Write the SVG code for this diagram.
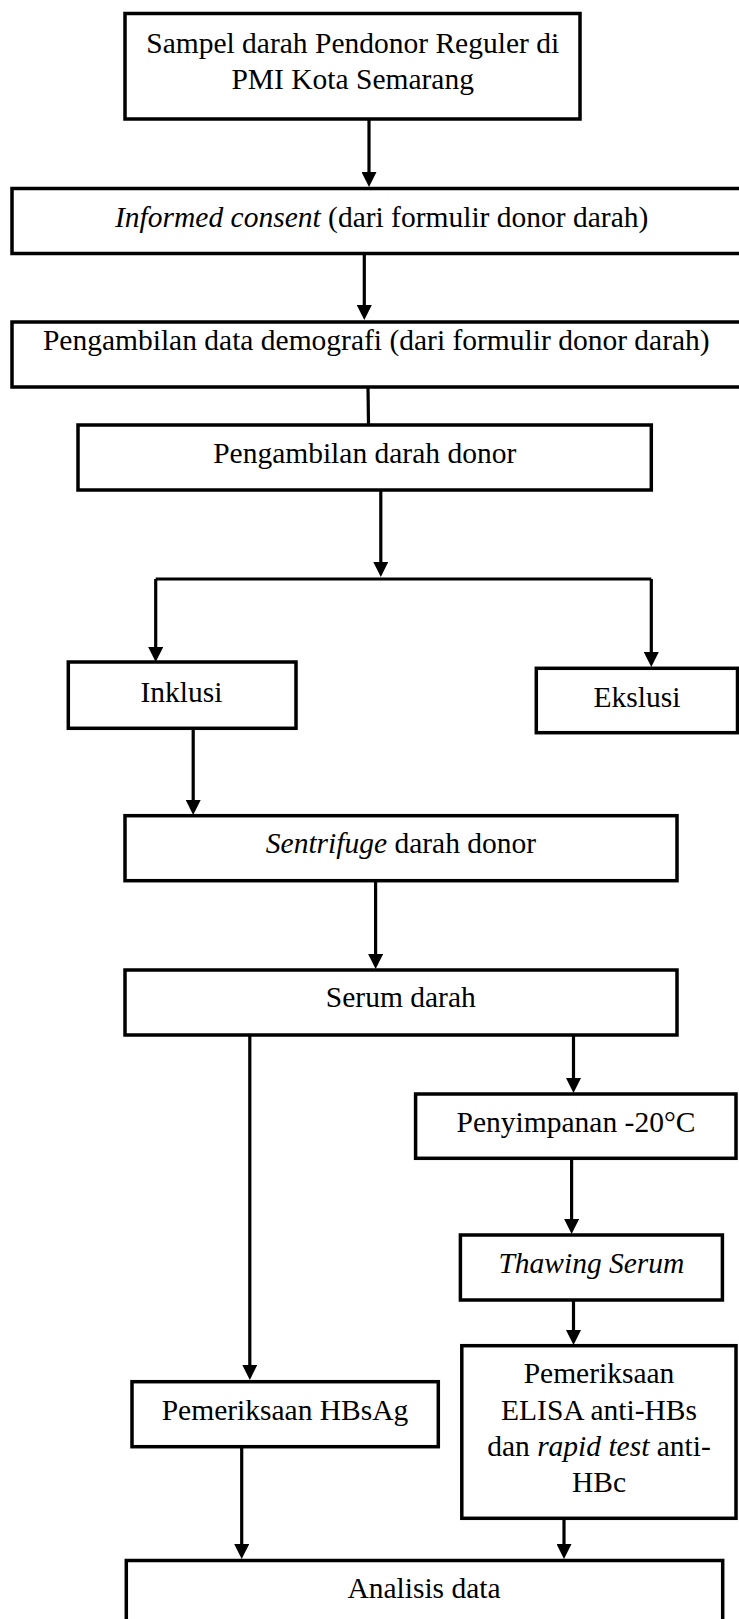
<svg xmlns="http://www.w3.org/2000/svg" width="739" height="1619" viewBox="0 0 739 1619">
<defs>
<marker id="arr" viewBox="0 0 15 15" markerWidth="15" markerHeight="15" refX="0" refY="7.5" orient="auto" markerUnits="userSpaceOnUse">
<path d="M0,0 L15,7.5 L0,15 z" fill="#000"/>
</marker>
<style>
.box{fill:#fff;stroke:#000;stroke-width:3.5}
.t{font-family:"Liberation Serif","Times New Roman",serif;font-size:29.5px;fill:#000;text-anchor:middle}
.i{font-style:italic}
.c{stroke:#000;stroke-width:3.2;fill:none}
.a{stroke:#000;stroke-width:3.2;fill:none;marker-end:url(#arr)}
</style>
</defs>
<rect width="739" height="1619" fill="#fff"/>
<g id="connectors">
<line class="a" x1="369" y1="119" x2="369" y2="172"/>
<line class="a" x1="364.3" y1="253" x2="364.3" y2="305"/>
<line class="c" x1="368" y1="387" x2="368.5" y2="425"/>
<line class="a" x1="380.8" y1="490" x2="380.8" y2="562"/>
<polyline class="c" points="155.7,579 651.3,579"/>
<line class="a" x1="155.7" y1="579" x2="155.7" y2="647"/>
<line class="a" x1="651.3" y1="579" x2="651.3" y2="652"/>
<line class="a" x1="193.2" y1="728" x2="193.2" y2="800"/>
<line class="a" x1="375.6" y1="881" x2="375.6" y2="954"/>
<line class="a" x1="249.8" y1="1035" x2="249.8" y2="1365"/>
<line class="a" x1="573.5" y1="1035" x2="573.5" y2="1078"/>
<line class="a" x1="571.6" y1="1158" x2="571.6" y2="1219"/>
<line class="a" x1="573.5" y1="1300" x2="573.5" y2="1330"/>
<line class="a" x1="241.7" y1="1447" x2="241.7" y2="1544"/>
<line class="a" x1="564" y1="1518" x2="564" y2="1544"/>
</g>
<g id="n1">
<rect class="box" x="125" y="13.5" width="455" height="105.5"/>
<text class="t" x="352.7" y="53.3">Sampel darah Pendonor Reguler di</text>
<text class="t" x="352.7" y="89.3">PMI Kota Semarang</text>
</g>
<g id="n2">
<rect class="box" x="12" y="188.5" width="740" height="65"/>
<text class="t" x="381.7" y="226.7"><tspan class="i">Informed consent</tspan> (dari formulir donor darah)</text>
</g>
<g id="n3">
<rect class="box" x="12" y="322" width="740" height="65"/>
<text class="t" x="376.3" y="350">Pengambilan data demografi (dari formulir donor darah)</text>
</g>
<g id="n4">
<rect class="box" x="78" y="425" width="573.3" height="65"/>
<text class="t" x="364.7" y="463.3">Pengambilan darah donor</text>
</g>
<g id="n5">
<rect class="box" x="68.3" y="662" width="227.7" height="66.3"/>
<text class="t" x="181.5" y="701.7">Inklusi</text>
</g>
<g id="n6">
<rect class="box" x="536.3" y="668.3" width="201.2" height="64.4"/>
<text class="t" x="637" y="707.3">Ekslusi</text>
</g>
<g id="n7">
<rect class="box" x="125" y="815.7" width="552" height="65"/>
<text class="t" x="401" y="853.3"><tspan class="i">Sentrifuge</tspan> darah donor</text>
</g>
<g id="n8">
<rect class="box" x="125" y="970" width="552" height="65"/>
<text class="t" x="400.8" y="1007.3">Serum darah</text>
</g>
<g id="n9">
<rect class="box" x="415.6" y="1094" width="320.4" height="64.3"/>
<text class="t" x="576" y="1131.7">Penyimpanan -20°C</text>
</g>
<g id="n10">
<rect class="box" x="460.4" y="1235" width="262" height="65"/>
<text class="t i" x="591.4" y="1273.3">Thawing Serum</text>
</g>
<g id="n11">
<rect class="box" x="461.8" y="1345.7" width="274.2" height="172.6"/>
<text class="t" x="599" y="1383.3">Pemeriksaan</text>
<text class="t" x="599" y="1420">ELISA anti-HBs</text>
<text class="t" x="599" y="1456">dan <tspan class="i">rapid test</tspan> anti-</text>
<text class="t" x="599" y="1491.7">HBc</text>
</g>
<g id="n12">
<rect class="box" x="132" y="1381.7" width="306.3" height="65"/>
<text class="t" x="285" y="1420">Pemeriksaan HBsAg</text>
</g>
<g id="n13">
<rect class="box" x="126.3" y="1560.5" width="596.4" height="100"/>
<text class="t" x="424" y="1598.3">Analisis data</text>
</g>
</svg>
